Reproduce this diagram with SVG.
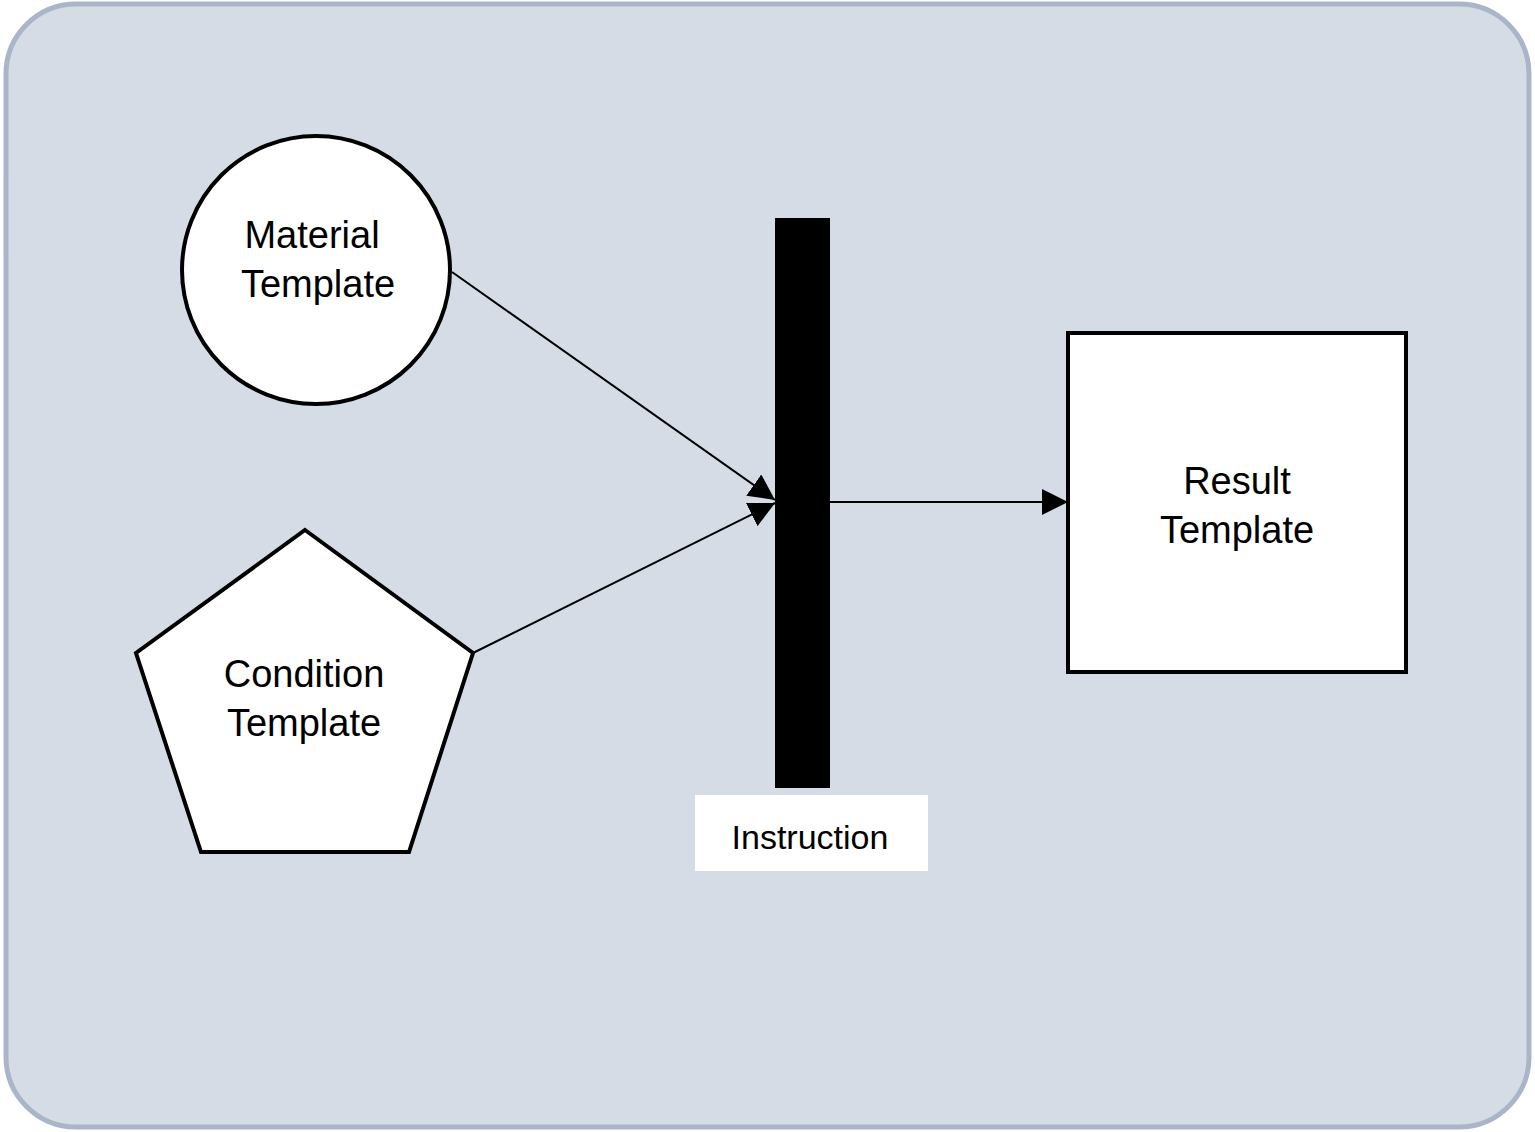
<svg xmlns="http://www.w3.org/2000/svg" width="1535" height="1132" viewBox="0 0 1535 1132">
<defs>
<style>
.node{fill:#ffffff;stroke:#000000;stroke-width:4}
.lbl{font-family:"Liberation Sans",Arial,sans-serif;font-size:38px;fill:#000;text-anchor:middle}
.edge{stroke:#000;stroke-width:2;fill:none}
</style>
<marker id="arrow" viewBox="0 0 26 26" refX="26" refY="13" markerWidth="26" markerHeight="26" markerUnits="userSpaceOnUse" orient="auto">
<path d="M0,0 L26,13 L0,26 z" fill="#000"/>
</marker>
</defs>
<rect x="6" y="4" width="1523" height="1123" rx="70" ry="70" fill="#d5dce6" stroke="#aab5c9" stroke-width="5"/>
<g id="connectors">
<line class="edge" x1="452" y1="272" x2="775" y2="500" marker-end="url(#arrow)"/>
<line class="edge" x1="473" y1="653" x2="775" y2="503" marker-end="url(#arrow)"/>
<line class="edge" x1="830" y1="502" x2="1068" y2="502" marker-end="url(#arrow)"/>
</g>
<g id="material">
<circle class="node" cx="316" cy="270" r="134"/>
<text class="lbl" x="312" y="248">Material</text>
<text class="lbl" x="318" y="297">Template</text>
</g>
<g id="condition">
<polygon class="node" points="305,530 473,653 409,852 201,852 136,653"/>
<text class="lbl" x="304" y="687">Condition</text>
<text class="lbl" x="304" y="736">Template</text>
</g>
<g id="instruction">
<rect x="775" y="218" width="55" height="570" fill="#000"/>
<rect x="695" y="795" width="233" height="76" fill="#fff"/>
<text class="lbl" x="810" y="849" style="font-size:34px">Instruction</text>
</g>
<g id="result">
<rect class="node" x="1068" y="333" width="338" height="339"/>
<text class="lbl" x="1237" y="494">Result</text>
<text class="lbl" x="1237" y="543">Template</text>
</g>
</svg>
